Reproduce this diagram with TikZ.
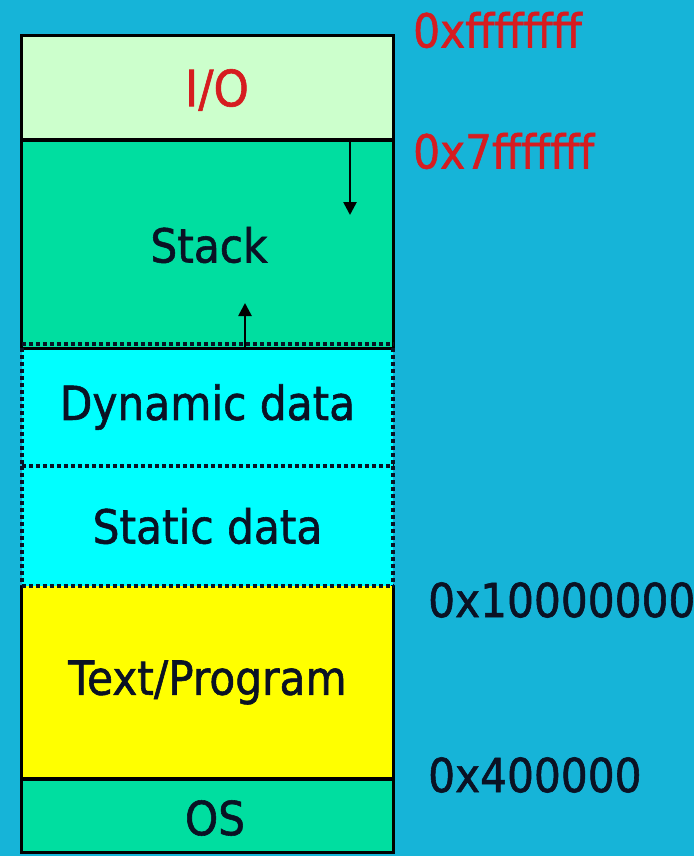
\documentclass[tikz,border=0pt]{standalone}
\usepackage{fontspec}
\setmainfont{DejaVu Sans}[FakeStretch=0.9, FakeBold=1.2]
\usetikzlibrary{arrows.meta}
\definecolor{bgblue}{RGB}{22,180,216}
\definecolor{iofill}{RGB}{204,255,204}
\definecolor{stackfill}{RGB}{0,222,160}
\definecolor{datafill}{RGB}{0,255,255}
\definecolor{progfill}{RGB}{255,255,0}
\definecolor{addrred}{RGB}{214,28,32}
\definecolor{ink}{RGB}{10,18,36}
\begin{document}
\begin{tikzpicture}[x=1pt,y=-1pt,
  region/.style={rectangle, minimum width=371pt, inner sep=0pt, font=\fontsize{47}{52}\selectfont, text=ink},
  solidbox/.style={draw=black, line width=2.8pt},
  dotbox/.style={draw=ink, line width=4.2pt, dash pattern=on 4pt off 3pt},
  addr/.style={anchor=west, inner sep=0pt, font=\fontsize{47}{52}\selectfont},
  arr/.style={line width=2.6pt, -{Triangle[length=13pt,width=13pt]}}]
\fill[bgblue] (0,0) rectangle (694,856);
\useasboundingbox (0,0) rectangle (694,856);
% regions
\node[region, fill=iofill, minimum height=104pt, text=addrred] (io) at (207.5,88) {};
\node[region, fill=stackfill, minimum height=208pt] (stack) at (207.5,244) {};
\node[region, fill=datafill, minimum height=118pt] (dyn) at (207.5,407) {Dynamic data};
\node[region, fill=datafill, minimum height=120pt] (stat) at (207.5,526) {Static data};
\node[region, fill=progfill, minimum height=193pt] (prog) at (207.5,682.5) {Text/Program};
\node[region, fill=stackfill, minimum height=73pt] (os) at (207.5,815.5) {};
% labels placed inside
\node[region, minimum width=0pt, text=addrred, font=\fontsize{50}{55}\selectfont] (iolabel) at (217,90) {I/O};
\node[region, minimum width=0pt] (stacklabel) at (209,245) {Stack};
\node[region, minimum width=0pt] (oslabel) at (215,818) {OS};
% solid borders
\draw[solidbox] (io.south west) rectangle (io.north east);
\draw[solidbox] (stack.south west) rectangle (stack.north east);
\draw[solidbox] (prog.north west) -- (prog.south west) -- (prog.south east) -- (prog.north east);
\draw[solidbox] (os.south west) rectangle (os.north east);
% dotted borders
\draw[dotbox] (dyn.north west) -- (dyn.south west);
\draw[dotbox] (dyn.north east) -- (dyn.south east);
\draw[dotbox] (stat.north west) -- (stat.south west);
\draw[dotbox] (stat.north east) -- (stat.south east);
\draw[dotbox] ([yshift=3.5pt]dyn.north west) -- ([yshift=3.5pt]dyn.north east);
\draw[dotbox] (dyn.south west) -- (dyn.south east);
\draw[dotbox] (stat.south west) -- (stat.south east);
% growth arrows
\coordinate (downend) at (350,215);
\coordinate (upend) at (245,303);
\draw[arr] (downend |- stack.north) -- (downend);
\draw[arr] (upend |- dyn.north) -- (upend);
% addresses
\node[addr, text=addrred] (a1) at (413,30) {0xffffffff};
\node[addr, text=addrred] (a2) at (413,151) {0x7fffffff};
\node[addr, text=ink] (a3) at (428,600) {0x10000000};
\node[addr, text=ink] (a4) at (428,775) {0x400000};
\end{tikzpicture}
\end{document}
